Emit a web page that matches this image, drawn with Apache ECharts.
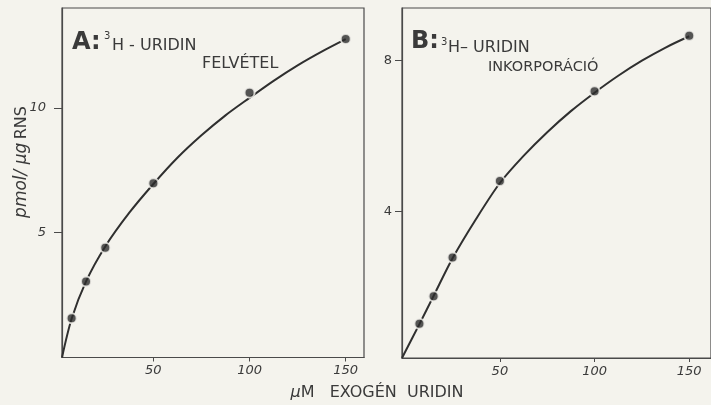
<!DOCTYPE html>
<html>
<head>
<meta charset="utf-8">
<script src="https://cdn.jsdelivr.net/npm/echarts@6/dist/echarts.min.js"></script>
<style>
html,body{margin:0;padding:0;background:#f4f3ed;}
#chart{width:711px;height:405px;}
</style>
</head>
<body>
<div id="chart"></div>
<script>
// ---- data ----
var doseX = [7.5, 15, 25, 50, 100, 150];              // µM exogenous uridine
var uptakeA = [1.57, 3.04, 4.40, 6.98, 10.61, 12.76];   // A: felvétel (pmol/µg RNS)
var incorpB = [1.01, 1.74, 2.77, 4.80, 7.19, 8.66];     // B: inkorporáció (pmol/µg RNS)
// fitted curves as drawn in the figure (read at these x positions)
var curveXA = [2.5, 7.5, 15, 25, 37.5, 50, 62.5, 75, 87.5, 100, 112.5, 125, 137.5, 150];
var curveYA = [0, 1.55, 3.05, 4.45, 5.8, 6.95, 8.0, 8.9, 9.7, 10.4, 11.08, 11.7, 12.25, 12.75];
var curveXB = [-1.7, 7.5, 15, 25, 37.5, 50, 62.5, 75, 87.5, 100, 112.5, 125, 137.5, 150];
var curveYB = [0.1, 1.0, 1.75, 2.75, 3.8, 4.75, 5.47, 6.1, 6.66, 7.15, 7.6, 8.0, 8.35, 8.65];
var xTicks = [50, 100, 150];
var yTicksA = [5, 10];
var yTicksB = [4, 8];

var BG = '#f4f3ed';
var INK = '#3a3a3a';

function pairs(xs, ys){ return xs.map(function(x,i){ return [x, ys[i]]; }); }

var chart = echarts.init(document.getElementById('chart'), null, {renderer:'canvas'});

var axisCommon = {
  type:'value',
  splitLine:{show:false},
  axisLine:{show:true, onZero:false, lineStyle:{color:'#4a4a4a', width:1.2}},
};

chart.setOption({
  backgroundColor: BG,
  animation:false,
  grid:[
    {left:62, top:8, width:302, height:349.5, show:true, borderColor:'#4a4a4a', borderWidth:1.2, backgroundColor:'transparent'},
    {left:402, top:8, width:314, height:350, show:true, borderColor:'#4a4a4a', borderWidth:1.2, backgroundColor:'transparent'}
  ],
  xAxis:[
    Object.assign({}, axisCommon, {gridIndex:0, min:2.5, max:159.5,
      axisTick:{show:true, customValues:xTicks, length:4, lineStyle:{color:'#4a4a4a'}},
      axisLabel:{customValues:xTicks, color:INK, fontStyle:'italic', fontFamily:'DejaVu Sans', fontSize:13, margin:7}}),
    Object.assign({}, axisCommon, {gridIndex:1, min:-1.7, max:161.5,
      axisTick:{show:true, customValues:xTicks, length:4, lineStyle:{color:'#4a4a4a'}},
      axisLabel:{customValues:xTicks, color:INK, fontStyle:'italic', fontFamily:'DejaVu Sans', fontSize:13, margin:7}})
  ],
  yAxis:[
    Object.assign({}, axisCommon, {gridIndex:0, min:0, max:14,
      axisTick:{show:true, customValues:yTicksA, length:8, lineStyle:{color:'#4a4a4a'}},
      axisLabel:{customValues:yTicksA, color:INK, fontStyle:'italic', fontFamily:'DejaVu Sans', fontSize:13, margin:16}}),
    Object.assign({}, axisCommon, {gridIndex:1, min:0.1, max:9.4,
      axisTick:{show:true, customValues:yTicksB, length:7, lineStyle:{color:'#4a4a4a'}},
      axisLabel:{customValues:yTicksB, color:INK, fontFamily:'DejaVu Sans', fontSize:13, margin:10}})
  ],
  series:[
    {type:'line', xAxisIndex:0, yAxisIndex:0, data:pairs(curveXA, curveYA), smooth:0.3,
     showSymbol:false, lineStyle:{color:'#2f2f2f', width:2}, z:2},
    {type:'scatter', xAxisIndex:0, yAxisIndex:0, data:pairs(doseX, uptakeA), symbolSize:10,
     itemStyle:{color:'#2c2c2c', borderColor:BG, borderWidth:2}, z:3},
    {type:'line', xAxisIndex:1, yAxisIndex:1, data:pairs(curveXB, curveYB), smooth:0.3,
     showSymbol:false, lineStyle:{color:'#2f2f2f', width:2}, z:2},
    {type:'scatter', xAxisIndex:1, yAxisIndex:1, data:pairs(doseX, incorpB), symbolSize:10,
     itemStyle:{color:'#2c2c2c', borderColor:BG, borderWidth:2}, z:3}
  ],
  graphic:[
    {type:'text', left:72, top:31, style:{text:'A:', font:'bold 24px "DejaVu Sans"', fill:INK}},
    {type:'text', left:104, top:31, style:{text:'3', font:'10px "DejaVu Sans"', fill:INK}},
    {type:'text', left:112, top:38, style:{text:'H - URIDIN', font:'16px "DejaVu Sans"', fill:INK}},
    {type:'text', left:202, top:56, style:{text:'FELVÉTEL', font:'16px "DejaVu Sans"', fill:INK}},
    {type:'text', left:411, top:30, style:{text:'B:', font:'bold 24px "DejaVu Sans"', fill:INK}},
    {type:'text', left:441, top:37, style:{text:'3', font:'10px "DejaVu Sans"', fill:INK}},
    {type:'text', left:448, top:40, style:{text:'H– URIDIN', font:'16px "DejaVu Sans"', fill:INK}},
    {type:'text', left:488, top:60, style:{text:'INKORPORÁCIÓ', font:'14.5px "DejaVu Sans"', fill:INK}},
    {type:'text', x:22, y:162, rotation:Math.PI/2,
     style:{text:'{i|pmol/ μg} {n|RNS}', align:'center', verticalAlign:'middle',
       rich:{i:{font:'italic 17px "DejaVu Sans"', fill:INK, color:INK}, n:{font:'16px "DejaVu Sans"', fill:INK, color:INK}}}},
    {type:'text', x:377, y:393,
     style:{text:'{i|μ}{n|M   EXOGÉN  URIDIN}', align:'center', verticalAlign:'middle',
       rich:{i:{font:'italic 16px "DejaVu Sans"', fill:INK, color:INK}, n:{font:'16px "DejaVu Sans"', fill:INK, color:INK}}}}
  ]
});
</script>
</body>
</html>
